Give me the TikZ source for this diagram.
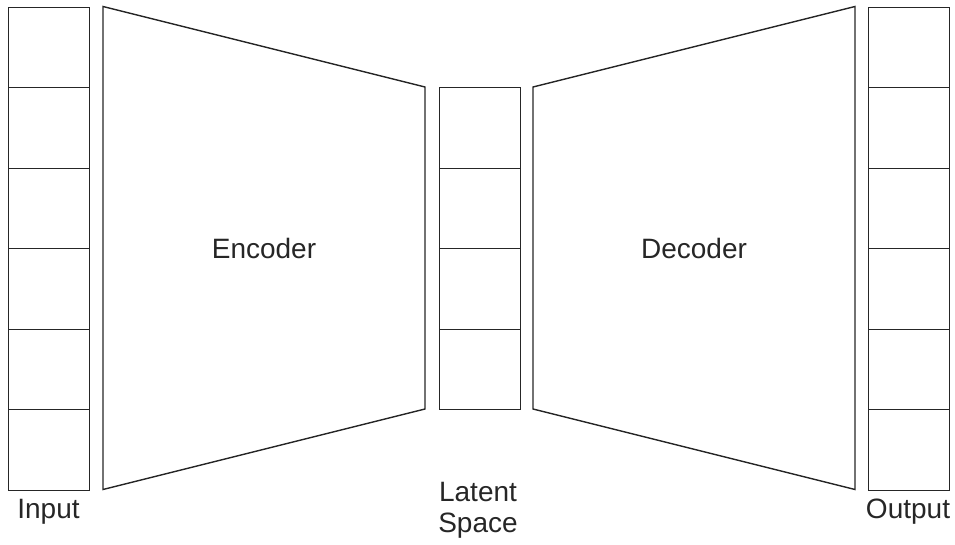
\documentclass[tikz,border=0pt]{standalone}
\usepackage{fontspec}
\setmainfont{Liberation Sans}
\begin{document}
\begin{tikzpicture}[x=1pt,y=-1pt,
  outline/.style={draw=black!85,line width=1.4pt,line join=miter},
  cell/.style={outline,minimum width=81pt,minimum height=80.5pt,inner sep=0pt,anchor=north west},
  lbl/.style={font=\fontsize{28}{31}\selectfont,text=black!85,inner sep=0pt,align=center}]
\useasboundingbox (0,0) rectangle (955,544);
% input and output columns: six cells each
\foreach \i in {0,...,5}{
  \node[cell] (in\i) at (8,{6.5+80.5*\i}) {};
  \node[cell] (out\i) at (867.5,{6.5+80.5*\i}) {};
}
% latent vector: four cells
\foreach \i in {0,...,3}{
  \node[cell] (lat\i) at (438.5,{87+80.5*\i}) {};
}
% encoder and decoder trapezoids
\draw[outline] (103,6.5) -- (425,87) -- (425,409) -- (103,489.5) -- cycle;
\draw[outline] (533,87) -- (855,6.5) -- (855,489.5) -- (533,409) -- cycle;
\node[lbl] (enc) at (264,248) {Encoder};
\node[lbl] (dec) at (694,248) {Decoder};
\node[lbl] (inl) at (48.5,512) {Input};
\node[lbl] (outl) at (908,512) {Output};
\node[lbl] (latl) at (478,510) {Latent\\Space};
\end{tikzpicture}
\end{document}
